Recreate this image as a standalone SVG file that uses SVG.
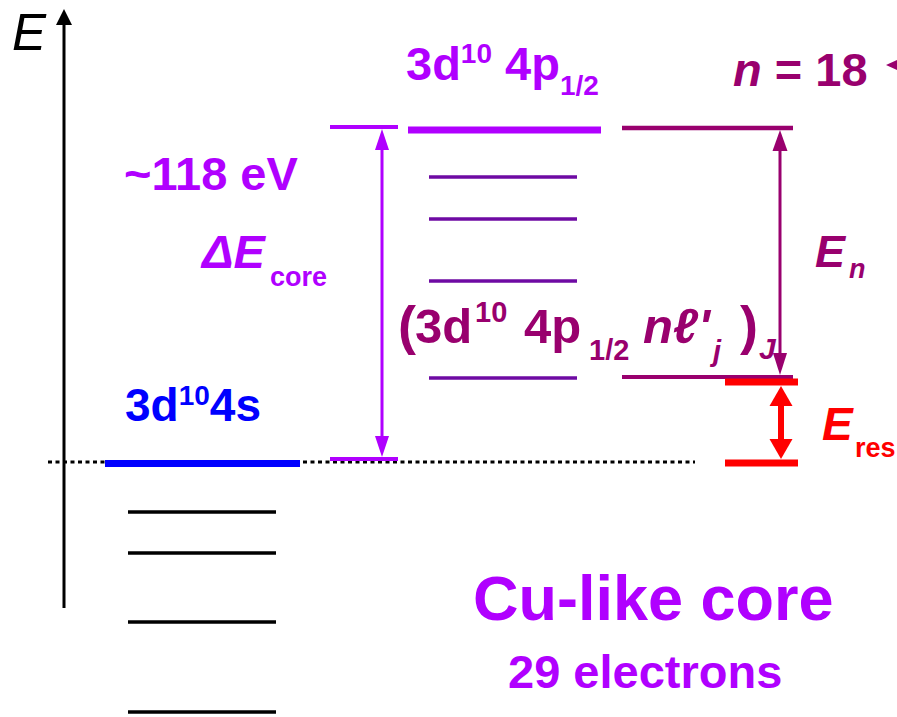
<svg xmlns="http://www.w3.org/2000/svg" width="897" height="717" viewBox="0 0 897 717">
<style>
text{font-family:"Liberation Sans",Arial,Helvetica,sans-serif;font-weight:bold}
.mag{fill:#B000FF}
.plum{fill:#99006E}
.red{fill:#FF0000}
.blue{fill:#0000FF}
.it{font-style:italic}
.lvK{stroke:#000;stroke-width:3.5}
.lvM{stroke:#6E0AA3;stroke-width:3.5}
.lvRed{stroke:#FF0000;stroke-width:7}
</style>
<rect width="897" height="717" fill="#fff"/>

<g id="axis">
  <line x1="64" y1="608" x2="64" y2="24" stroke="#000" stroke-width="3"/>
  <polygon points="64,9 56,25 72,25" fill="#000"/>
  <text x="12" y="50" font-size="51" style="font-weight:normal;font-style:italic" fill="#000">E</text>
</g>

<g id="reference-line">
  <line x1="48" y1="462" x2="695" y2="462" stroke="#000" stroke-width="3" stroke-dasharray="4 3.5"/>
</g>

<g id="ground-level">
  <line x1="105" y1="463.5" x2="300" y2="463.5" stroke="#0000FF" stroke-width="7"/>
  <text x="125" y="421" font-size="46" class="blue">3d<tspan font-size="28" dy="-16">10</tspan><tspan dy="16">4s</tspan></text>
</g>

<g id="core-levels">
  <line x1="128" y1="512" x2="276" y2="512" class="lvK"/>
  <line x1="128" y1="553" x2="276" y2="553" class="lvK"/>
  <line x1="128" y1="622" x2="276" y2="622" class="lvK"/>
  <line x1="128" y1="712" x2="276" y2="712" class="lvK"/>
</g>

<g id="excited-core-level">
  <line x1="408" y1="130" x2="601" y2="130" stroke="#B000FF" stroke-width="7"/>
  <text x="406" y="80" font-size="47" class="mag">3d<tspan font-size="28" dy="-17">10</tspan><tspan dy="17"> 4p</tspan><tspan font-size="28" dy="15">1/2</tspan></text>
</g>

<g id="rydberg-levels">
  <line x1="429" y1="177" x2="577" y2="177" class="lvM"/>
  <line x1="429" y1="219" x2="577" y2="219" class="lvM"/>
  <line x1="429" y1="281" x2="577" y2="281" class="lvM"/>
  <line x1="429" y1="378" x2="577" y2="378" class="lvM"/>
  <text y="344" font-size="49" class="plum"><tspan x="398" font-size="54">(</tspan><tspan x="415" y="343">3d</tspan><tspan x="475" y="322" font-size="29">10</tspan><tspan x="524" y="343">4p</tspan><tspan x="589" y="360" font-size="29">1/2</tspan><tspan x="643" y="343" class="it">nℓ'</tspan><tspan x="713" y="361" font-size="29" class="it">j</tspan><tspan x="740" y="344" font-size="54">)</tspan><tspan x="759" y="359" font-size="30" class="it">J</tspan></text>
</g>

<g id="core-gap-levels">
  <line x1="330" y1="127" x2="398" y2="127" stroke="#B000FF" stroke-width="4"/>
  <line x1="330" y1="459" x2="398" y2="459" stroke="#B000FF" stroke-width="4"/>
  <text x="124" y="190" font-size="47" class="mag">~118 eV</text>
  <text x="202" y="268" font-size="47" class="mag it">ΔE</text>
  <text x="270" y="286" font-size="27" class="mag">core</text>
</g>

<g id="rydberg-series">
  <line x1="622" y1="128" x2="793" y2="128" stroke="#99006E" stroke-width="4.5"/>
  <line x1="622" y1="377" x2="793" y2="377" stroke="#99006E" stroke-width="4"/>
  <text x="733" y="86" font-size="47" class="plum"><tspan class="it">n</tspan> = 18</text>
  <polygon points="886,65 897,60 897,70" fill="#99006E"/>
  <text x="815" y="267" font-size="45" class="plum it">E</text>
  <text x="849" y="278" font-size="27" class="plum it">n</text>
</g>

<g id="resonance">
  <line x1="725" y1="382" x2="798" y2="382" class="lvRed"/>
  <line x1="725" y1="463" x2="798" y2="463" class="lvRed"/>
  <text x="822" y="440" font-size="46" class="red it">E</text>
  <text x="855" y="457" font-size="27" class="red">res</text>
</g>

<g id="caption">
  <text x="473" y="620" font-size="63" class="mag">Cu-like core</text>
  <text x="508" y="688" font-size="47" class="mag">29 electrons</text>
</g>

<g id="connectors">
  <line x1="382" y1="148" x2="382" y2="438" stroke="#B000FF" stroke-width="3"/>
  <polygon points="382,129 375,150 389,150" fill="#B000FF"/>
  <polygon points="382,457 375,436 389,436" fill="#B000FF"/>
  <line x1="780" y1="148" x2="780" y2="356" stroke="#99006E" stroke-width="3"/>
  <polygon points="780,130 772.5,151 787.5,151" fill="#99006E"/>
  <polygon points="780,375 773,353 787,353" fill="#99006E"/>
  <line x1="781" y1="402" x2="781" y2="443" stroke="#FF0000" stroke-width="6"/>
  <polygon points="781,386 769.5,406 792.5,406" fill="#FF0000"/>
  <polygon points="781,459 769.5,439 792.5,439" fill="#FF0000"/>
</g>
</svg>
